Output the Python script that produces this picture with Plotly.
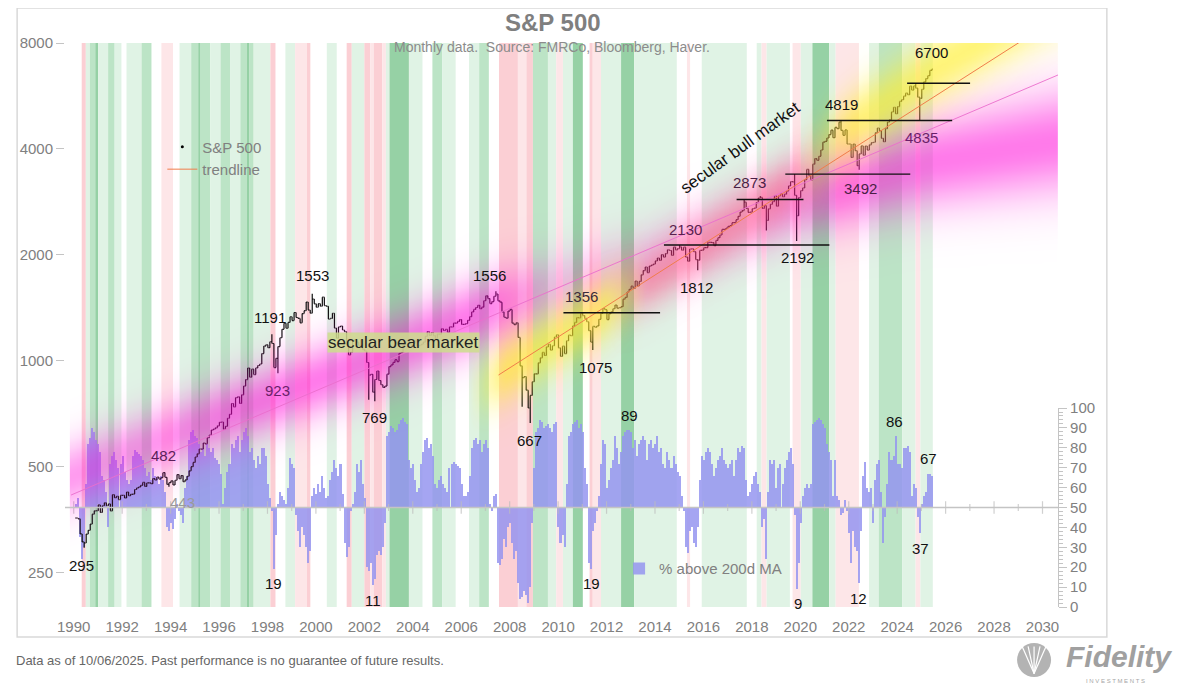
import numpy as np
import plotly.graph_objects as go

FONT = "Liberation Sans, Arial, sans-serif"
GREY = "#808080"

# ---------------- data ----------------
first_year, first_month = 1990, 6  # first monthly observation (Jun 1990)

spx_close = [
    358.02, 356.15, 322.56, 306.05, 304.00, 322.22, 330.22,
    343.93, 367.07, 375.22, 375.34, 389.83, 371.16, 387.81, 395.43, 387.86, 392.46, 375.22, 417.09,
    408.79, 412.70, 403.69, 414.95, 415.35, 408.14, 424.21, 414.03, 417.80, 418.68, 431.35, 435.71,
    438.78, 443.38, 451.67, 440.19, 450.19, 450.53, 448.13, 463.56, 458.93, 467.83, 461.79, 466.45,
    481.61, 467.14, 445.77, 450.91, 456.50, 444.27, 458.26, 475.49, 462.69, 472.35, 453.69, 459.27,
    470.42, 487.39, 500.71, 514.71, 533.40, 544.75, 562.06, 561.88, 584.41, 581.50, 605.37, 615.93,
    636.02, 640.43, 645.50, 654.17, 669.12, 670.63, 639.95, 651.99, 687.33, 705.27, 757.02, 740.74,
    786.16, 790.82, 757.12, 801.34, 848.28, 885.14, 954.29, 899.47, 947.28, 914.62, 955.40, 970.43,
    980.28, 1049.34, 1101.75, 1111.75, 1090.82, 1133.84, 1120.67, 957.28, 1017.01, 1098.67, 1163.63, 1229.23,
    1279.64, 1238.33, 1286.37, 1335.18, 1301.84, 1372.71, 1328.72, 1320.41, 1282.71, 1362.93, 1388.91, 1469.25,
    1394.46, 1366.42, 1498.58, 1452.43, 1420.60, 1454.60, 1430.83, 1517.68, 1436.51, 1429.40, 1314.95, 1320.28,
    1366.01, 1239.94, 1160.33, 1249.46, 1255.82, 1224.38, 1211.23, 1133.58, 1040.94, 1059.78, 1139.45, 1148.08,
    1130.20, 1106.73, 1147.39, 1076.92, 1067.14, 989.82, 911.62, 916.07, 815.28, 885.76, 936.31, 879.82,
    855.70, 841.15, 848.18, 916.92, 963.59, 974.50, 990.31, 1008.01, 995.97, 1050.71, 1058.20, 1111.92,
    1131.13, 1144.94, 1126.21, 1107.30, 1120.68, 1140.84, 1101.72, 1104.24, 1114.58, 1130.20, 1173.82, 1211.92,
    1181.27, 1203.60, 1180.59, 1156.85, 1191.50, 1191.33, 1234.18, 1220.33, 1228.81, 1207.01, 1249.48, 1248.29,
    1280.08, 1280.66, 1294.87, 1310.61, 1270.09, 1270.20, 1276.66, 1303.82, 1335.85, 1377.94, 1400.63, 1418.30,
    1438.24, 1406.82, 1420.86, 1482.37, 1530.62, 1503.35, 1455.27, 1473.99, 1526.75, 1549.38, 1481.14, 1468.36,
    1378.55, 1330.63, 1322.70, 1385.59, 1400.38, 1280.00, 1267.38, 1282.83, 1166.36, 968.75, 896.24, 903.25,
    825.88, 735.09, 797.87, 872.81, 919.14, 919.32, 987.48, 1020.62, 1057.08, 1036.19, 1095.63, 1115.10,
    1073.87, 1104.49, 1169.43, 1186.69, 1089.41, 1030.71, 1101.60, 1049.33, 1141.20, 1183.26, 1180.55, 1257.64,
    1286.12, 1327.22, 1325.83, 1363.61, 1345.20, 1320.64, 1292.28, 1218.89, 1131.42, 1253.30, 1246.96, 1257.60,
    1312.41, 1365.68, 1408.47, 1397.91, 1310.33, 1362.16, 1379.32, 1406.58, 1440.67, 1412.16, 1416.18, 1426.19,
    1498.11, 1514.68, 1569.19, 1597.57, 1630.74, 1606.28, 1685.73, 1632.97, 1681.55, 1756.54, 1805.81, 1848.36,
    1782.59, 1859.45, 1872.34, 1883.95, 1923.57, 1960.23, 1930.67, 2003.37, 1972.29, 2018.05, 2067.56, 2058.90,
    1994.99, 2104.50, 2067.89, 2085.51, 2107.39, 2063.11, 2103.84, 1972.18, 1920.03, 2079.36, 2080.41, 2043.94,
    1940.24, 1932.23, 2059.74, 2065.30, 2096.95, 2098.86, 2173.60, 2170.95, 2168.27, 2126.15, 2198.81, 2238.83,
    2278.87, 2363.64, 2362.72, 2384.20, 2411.80, 2423.41, 2470.30, 2471.65, 2519.36, 2575.26, 2647.58, 2673.61,
    2823.81, 2713.83, 2640.87, 2648.05, 2705.27, 2718.37, 2816.29, 2901.52, 2913.98, 2711.74, 2760.17, 2506.85,
    2704.10, 2784.49, 2834.40, 2945.83, 2752.06, 2941.76, 2980.38, 2926.46, 2976.74, 3037.56, 3140.98, 3230.78,
    3225.52, 2954.22, 2584.59, 2912.43, 3044.31, 3100.29, 3271.12, 3500.31, 3363.00, 3269.96, 3621.63, 3756.07,
    3714.24, 3811.15, 3972.89, 4181.17, 4204.11, 4297.50, 4395.26, 4522.68, 4307.54, 4605.38, 4567.00, 4766.18,
    4515.55, 4373.94, 4530.41, 4131.93, 4132.15, 3785.38, 4130.29, 3955.00, 3585.62, 3871.98, 4080.11, 3839.50,
    4076.60, 3970.15, 4109.31, 4169.48, 4179.83, 4450.38, 4588.96, 4507.66, 4288.05, 4193.80, 4567.80, 4769.83,
    4845.65, 5096.27, 5254.35, 5035.69, 5277.51, 5460.48, 5522.30, 5648.40, 5762.48, 5705.45, 6032.38, 5881.63,
    6040.53, 5954.50, 5611.85, 5569.06, 5911.69, 6204.95, 6339.39, 6460.26, 6688.46, 6740.28,
]

# intramonth extremes shown by the monthly bars
ext_low_month = ["1990-10", "1994-04", "1998-10", "2002-07", "2002-10", "2008-11", "2009-03",
                 "2011-10", "2016-02", "2018-12", "2020-03", "2022-10", "2025-04"]
ext_low_value = [294.5, 438.9, 923.3, 775.7, 768.6, 741.0, 666.8,
                 1074.8, 1810.1, 2346.6, 2191.9, 3491.6, 4835.0]
ext_high_month = ["1994-02", "1998-07", "2000-03", "2007-10", "2011-05", "2015-05", "2018-01",
                  "2018-09", "2020-02", "2022-01", "2025-02"]
ext_high_value = [482.0, 1190.6, 1552.9, 1576.1, 1370.6, 2134.7, 2872.9,
                  2940.9, 3393.5, 4818.6, 6147.4]

# % of S&P 500 members above their 200-day moving average (monthly)
pct_above_200d = [
    52, 55, 35, 24, 30, 62, 82,
    85, 90, 88, 84, 82, 78, 66, 64, 58, 40, 72, 76,
    78, 74, 70, 72, 76, 68, 64, 62, 64, 76, 79, 78,
    77, 76, 74, 70, 66, 68, 64, 70, 66, 65, 62, 66,
    64, 58, 40, 38, 42, 39, 44, 52, 48, 46, 42, 60,
    66, 84, 88, 89, 86, 85, 82, 78, 80, 76, 82, 80,
    78, 80, 75, 74, 72, 67, 52, 60, 68, 72, 82, 80,
    84, 86, 78, 84, 88, 90, 86, 78, 80, 74, 70, 76,
    72, 80, 80, 76, 62, 55, 48, 19, 36, 52, 58, 56,
    54, 52, 60, 75, 72, 70, 46, 38, 30, 40, 36, 30,
    22, 28, 56, 60, 57, 62, 58, 66, 60, 55, 56, 64,
    68, 74, 70, 66, 72, 57, 32, 25, 30, 48, 52, 58,
    72, 68, 74, 62, 55, 20, 18, 22, 11, 14, 26, 28,
    26, 30, 42, 86, 88, 91, 90, 88, 89, 92, 94, 95,
    93, 92, 74, 70, 72, 64, 58, 60, 72, 78, 84, 85,
    80, 82, 76, 62, 60, 64, 66, 62, 60, 58, 70, 72,
    73, 72, 71, 70, 62, 56, 56, 58, 66, 80, 84, 85,
    82, 84, 78, 82, 84, 80, 52, 48, 56, 57, 22, 21,
    24, 34, 30, 40, 42, 32, 24, 28, 12, 4, 5, 8,
    6, 2, 10, 42, 70, 88, 90, 94, 93, 90, 91, 92,
    90, 88, 92, 93, 40, 32, 36, 30, 62, 86, 88, 92,
    93, 94, 90, 92, 88, 70, 62, 22, 19, 38, 42, 48,
    56, 72, 84, 82, 60, 64, 70, 74, 86, 80, 72, 78,
    86, 88, 89, 89, 88, 80, 84, 76, 82, 84, 86, 84,
    74, 82, 84, 80, 82, 86, 78, 80, 72, 70, 78, 74,
    70, 76, 72, 68, 66, 56, 48, 30, 27, 38, 40, 32,
    30, 40, 64, 76, 74, 78, 80, 78, 72, 66, 70, 74,
    76, 80, 74, 72, 70, 72, 74, 66, 74, 80, 78, 81,
    80, 64, 56, 58, 62, 66, 68, 62, 58, 40, 44, 24,
    58, 74, 72, 74, 60, 70, 72, 62, 70, 74, 78, 80,
    72, 46, 9, 22, 42, 56, 60, 62, 60, 62, 92, 93,
    94, 95, 94, 92, 90, 82, 78, 74, 56, 74, 56, 54,
    46, 47, 54, 48, 37, 22, 38, 30, 28, 12, 38, 66,
    73, 60, 58, 60, 42, 64, 72, 74, 58, 32, 45, 62,
    78, 74, 76, 86, 72, 72, 70, 80, 80, 81, 78, 56,
    62, 60, 45, 37, 52, 56, 58, 67, 67, 66,
]

# background regime shading: segment start (decimal year) and level (+ green / - red)
band_start = [1990.42, 1990.69, 1990.86, 1991.03, 1991.25, 1991.37, 1991.78, 1992.05, 1992.33, 1992.54,
              1993.16, 1993.57, 1993.98, 1994.46, 1994.73, 1995.21, 1995.50, 1995.60, 1996.00, 1996.42,
              1996.83, 1997.24, 1997.50, 1997.60, 1997.79, 1998.48, 1998.69, 1999.10, 1999.50, 1999.99,
              2000.13, 2000.81, 2001.22, 2001.63, 2001.84, 2002.36, 2002.60, 2002.75, 2003.10, 2003.25,
              2003.40, 2004.20, 2004.76, 2005.17, 2005.58, 2006.13, 2006.68, 2007.10, 2007.50, 2007.92,
              2008.70, 2009.05, 2009.32, 2009.94, 2010.28, 2010.56, 2010.97, 2011.38, 2011.66, 2011.79,
              2012.13, 2012.96, 2013.50, 2015.26, 2015.68, 2015.81, 2016.29, 2018.15, 2018.56, 2018.76,
              2018.97, 2019.93, 2020.04, 2020.38, 2020.86, 2021.55, 2021.82, 2022.78, 2023.20, 2023.60,
              2024.57, 2025.12, 2025.32]
band_level = [0, -2, 1, 2, 3, 1, 2, 1, 0, 1,
              2, 0, -1, 0, 1, 2, 3, 2, 1, 2,
              1, 2, 3, 2, 1, -2, 0, 1, -1, -2,
              0, 1, 0, -2, 1, -2, -1, -2, -1, 1,
              3, 1, 0, 2, 1, 0, 1, 2, 0, -2,
              -1, -2, 2, 1, -1, 1, 3, 0, -2, -1,
              1, 3, 1, 0, -1, 0, 1, 0, 1, -1,
              1, 0, -1, 1, 3, 1, -1, 0, 1, 2,
              1, -1, 1]
band_last_end = 2025.83

# trendlines (start/end points)
pink_trend_years = [1990.25, 2031.0]
pink_trend_values = [416, 6490]
orange_trend_years = [2007.9, 2028.97]
orange_trend_values = [912, 7690]

# glow bands (centre path, strength profile)
magenta_years = [1990.25, 1996, 2000, 2004, 2008, 2014, 2020, 2026, 2031]
magenta_centre = [470, 680, 860, 1100, 1450, 1850, 2850, 3700, 4200]
magenta_str_years = [1990.25, 1994, 1997, 2007, 2010, 2018, 2022, 2031]
magenta_str = [0.75, 0.8, 1, 1, 0.45, 0.5, 1, 1]
yellow_years = [2006.5, 2008, 2012, 2014, 2020, 2022, 2026, 2031]
yellow_centre = [800, 921, 1375, 1690, 3300, 4400, 6800, 11000]
yellow_str_years = [2006.6, 2008.2, 2012.3, 2014.0, 2020.0, 2022.5, 2031]
yellow_str = [0, 1, 1, 0, 0, 1, 1]
red_years = [2012, 2021]
red_centre = [1375, 3500]
red_str_years = [2012.5, 2014.2, 2019.5, 2021.5]
red_str = [0, 1, 1, 0]

# support / resistance lines
support_level = [1370, 2134, 2873, 3393, 4819, 6147]
support_from = [2010.58, 2014.73, 2017.73, 2019.74, 2021.46, 2024.77]
support_to = [2014.57, 2021.56, 2020.49, 2024.90, 2026.63, 2027.37]

# price labels: text, year, placement level
price_label_text = ["295", "482", "443", "923", "1191", "1553", "769", "1556", "667", "1356",
                    "1075", "2130", "1812", "2873", "2192", "4819", "3492", "4835", "6700"]
price_label_year = [1990.70, 1994.07, 1994.86, 1998.77, 1998.48, 2000.21, 2002.76, 2007.53, 2009.18, 2011.32,
                    2011.89, 2015.60, 2016.09, 2018.27, 2020.25, 2022.06, 2022.84, 2025.35, 2025.76]
price_label_at = [263, 537, 395, 822, 1325, 1744, 689, 1744, 596, 1520,
                  961, 2356, 1612, 3203, 1961, 5357, 3094, 4317, 7494]
price_label_color = ["#111", "#5a1f5a", "#9a9a9a", "#6a1f6a", "#111", "#111", "#111", "#111", "#111", "#3a2a3a",
                     "#111", "#5a1f4f", "#111", "#4a1f45", "#111", "#111", "#4a1f45", "#6a1f6a", "#111"]

bar_label_text = ["95", "19", "11", "2", "89", "19", "9", "95", "12", "86", "67", "37"]
bar_label_year = [2003.95, 1998.60, 2002.72, 2009.14, 2013.29, 2011.73, 2020.25, 2021.32, 2022.76, 2024.24,
                  2025.64, 2025.31]
bar_label_at = [102.5, 11.6, 3.5, -5.5, 96, 11.6, 2, 102.5, 4.5, 93, 74.4, 29.6]

year_ticks = list(range(1990, 2031, 2))
TICK_SHIFT = 0.36  # year labels sit slightly right of Jan 1

# ---------------- derived ----------------
n = len(spx_close)
assert len(pct_above_200d) == n
assert len(band_start) == len(band_level)
months = [(first_year + (first_month - 1 + i) // 12, (first_month - 1 + i) % 12 + 1) for i in range(n)]
t = [y + (m - 0.5) / 12 for y, m in months]
keys = [f"{y}-{m:02d}" for y, m in months]
opens = [spx_close[0]] + spx_close[:-1]
highs = [max(o, c) for o, c in zip(opens, spx_close)]
lows = [min(o, c) for o, c in zip(opens, spx_close)]
for k, v in zip(ext_low_month, ext_low_value):
    i = keys.index(k)
    lows[i] = min(lows[i], v)
for k, v in zip(ext_high_month, ext_high_value):
    i = keys.index(k)
    highs[i] = max(highs[i], v)

X_RANGE = [1990.0, 2031.0]
Y_LOG_RANGE = [np.log10(200), np.log10(8000)]
PX_PER_DECADE = 564 / (Y_LOG_RANGE[1] - Y_LOG_RANGE[0])

fig = go.Figure()

# bars: % above 200d MA (primary y, lower part)
fig.add_trace(go.Bar(
    x=t, y=[v - 50 for v in pct_above_200d], base=50,
    marker=dict(color="rgba(148,148,240,0.84)", line=dict(width=0)),
    width=0.083, name="% above 200d MA", legend="legend2",
    xaxis="x", yaxis="y", hoverinfo="skip",
))

# baseline ticks at 50
minor_years = list(range(1990, 2031))
fig.add_trace(go.Scatter(
    x=[y + TICK_SHIFT for y in minor_years], y=[50] * len(minor_years),
    mode="markers", xaxis="x", yaxis="y", showlegend=False, hoverinfo="skip",
    marker=dict(symbol="line-ns", size=[9 if y % 2 == 0 else 5 for y in minor_years],
                line=dict(color="#bdbdbd", width=1.2)),
))

# S&P 500 monthly bars
fig.add_trace(go.Ohlc(
    x=t, open=opens, high=highs, low=lows, close=spx_close,
    increasing=dict(line=dict(color="#111111", width=1.2)),
    decreasing=dict(line=dict(color="#111111", width=1.2)),
    tickwidth=0.45, showlegend=False, xaxis="x", yaxis="y2", name="S&P 500",
))
fig.add_trace(go.Scatter(
    x=[None], y=[None], mode="markers", marker=dict(color="black", size=3),
    name="S&P 500", legend="legend", xaxis="x", yaxis="y2",
))

# glow heatmaps (drawn above the price bars)
gx = np.arange(1990.25, 2031.05, 0.1)
gy = np.logspace(Y_LOG_RANGE[0], Y_LOG_RANGE[1], 170)


def glow(cyears, cvals, syears, svals, sig_years, sig_vals, rgb, alpha):
    centre = np.interp(gx, cyears, np.log10(cvals))
    strength = np.interp(gx, syears, svals)
    sigma = np.interp(gx, sig_years, sig_vals)
    d = (np.log10(gy)[:, None] - centre[None, :]) * PX_PER_DECADE
    z = np.exp(-0.5 * (d / sigma[None, :]) ** 2) * strength[None, :]
    r, g, b = rgb
    return go.Heatmap(
        x=gx, y=gy, z=np.round(z, 3), zmin=0, zmax=1, zsmooth="best",
        colorscale=[[0, f"rgba({r},{g},{b},0)"], [1, f"rgba({r},{g},{b},{alpha})"]],
        showscale=False, hoverinfo="skip", xaxis="x", yaxis="y3",
    )


fig.add_trace(glow(magenta_years, magenta_centre, magenta_str_years, magenta_str,
                   [1990, 2020, 2031], [24, 27, 36], (255, 0, 215), 0.52))
fig.add_trace(glow(red_years, red_centre, red_str_years, red_str,
                   [2012, 2021], [20, 22], (255, 80, 95), 0.38))
fig.add_trace(glow(yellow_years, yellow_centre, yellow_str_years, yellow_str,
                   [2006, 2031], [22, 27], (255, 238, 40), 0.62))

# trendlines
fig.add_trace(go.Scatter(
    x=pink_trend_years, y=pink_trend_values, mode="lines",
    line=dict(color="rgba(235,110,205,0.9)", width=1), showlegend=False,
    hoverinfo="skip", xaxis="x", yaxis="y3",
))
r_or = np.log(orange_trend_values[1] / orange_trend_values[0]) / (orange_trend_years[1] - orange_trend_years[0])
or_x = [orange_trend_years[0], X_RANGE[1]]
or_y = [orange_trend_values[0], orange_trend_values[0] * np.exp(r_or * (X_RANGE[1] - orange_trend_years[0]))]
fig.add_trace(go.Scatter(
    x=or_x, y=or_y, mode="lines", line=dict(color="rgb(240,125,75)", width=1),
    name="trendline", legend="legend", hoverinfo="skip", xaxis="x", yaxis="y3",
))

# support lines
sx, sy = [], []
for lv, a, b in zip(support_level, support_from, support_to):
    sx += [a, b, None]
    sy += [lv, lv, None]
fig.add_trace(go.Scatter(
    x=sx, y=sy, mode="lines", line=dict(color="#111111", width=1.4),
    showlegend=False, hoverinfo="skip", xaxis="x", yaxis="y3",
))

# background regime bands
band_colors = {3: "rgb(150,209,165)", 2: "rgb(188,228,198)", 1: "rgb(224,243,229)",
               -1: "rgb(253,230,232)", -2: "rgb(251,207,212)"}
ends = band_start[1:] + [band_last_end]
shapes = []
for x0, x1, lv in zip(band_start, ends, band_level):
    if lv == 0:
        continue
    shapes.append(dict(type="rect", xref="x", yref="paper", x0=x0, x1=x1, y0=0, y1=1,
                       fillcolor=band_colors[lv], line=dict(width=0), layer="below"))
# baseline at 50
shapes.append(dict(type="line", xref="x", yref="y", x0=X_RANGE[0], x1=X_RANGE[1], y0=50, y1=50,
                   line=dict(color="#c4c4c4", width=1.3)))
# outer frame
shapes.append(dict(type="rect", xref="paper", yref="paper", x0=-0.0482, x1=1.0492, y0=-0.0532, y1=1.0621,
                   line=dict(color="#d9d9d9", width=1.5), layer="below"))
# Fidelity mark
shapes.append(dict(type="circle", xref="paper", yref="paper", x0=0.9588, x1=0.993, y0=-0.124, y1=-0.0638,
                   fillcolor="#b3b3b3", line=dict(width=0)))
for dx in (-0.012, -0.006, 0.0, 0.006, 0.012):
    shapes.append(dict(type="line", xref="paper", yref="paper", x0=0.9759, y0=-0.118,
                       x1=0.9759 + dx, y1=-0.070, line=dict(color="white", width=1.2)))

annotations = []
for txt, yr, lv, col in zip(price_label_text, price_label_year, price_label_at, price_label_color):
    annotations.append(dict(x=yr, y=np.log10(lv), xref="x", yref="y2", text=txt, showarrow=False,
                            xanchor="center", yanchor="middle",
                            font=dict(family=FONT, size=15, color=col)))
for txt, yr, lv in zip(bar_label_text, bar_label_year, bar_label_at):
    annotations.append(dict(x=yr, y=lv, xref="x", yref="y", text=txt, showarrow=False,
                            xanchor="center", yanchor="middle",
                            font=dict(family=FONT, size=15, color="#111")))
annotations += [
    dict(x=2003.99, y=np.log10(1125), xref="x", yref="y2", text="secular bear market", showarrow=False,
         xanchor="center", yanchor="middle",
         bgcolor="rgba(205,222,140,0.85)", borderpad=0, font=dict(family=FONT, size=17, color="#222")),
    dict(x=2017.9, y=np.log10(4030), xref="x", yref="y2", text="secular bull market", showarrow=False,
         xanchor="center", yanchor="middle",
         textangle=-36, font=dict(family=FONT, size=17, color="#111")),
    dict(x=0.491, y=1.0355, xref="paper", yref="paper", text="<b>S&P 500</b>", showarrow=False,
         xanchor="center", yanchor="middle", font=dict(family=FONT, size=24, color="#7f7f7f")),
    dict(x=0.49, y=0.993, xref="paper", yref="paper", text="Monthly data.  Source: FMRCo, Bloomberg, Haver.",
         xanchor="center", yanchor="middle",
         showarrow=False, font=dict(family=FONT, size=14, color="#8c8c8c")),
    dict(x=-0.0512, y=-0.094, xref="paper", yref="paper", xanchor="left", yanchor="middle",
         text="Data as of 10/06/2025. Past performance is no guarantee of future results.",
         showarrow=False, font=dict(family=FONT, size=13, color="#666666")),
    dict(x=1.061, y=-0.088, xref="paper", yref="paper", text="<b><i>Fidelity</i></b>", showarrow=False,
         xanchor="center", yanchor="middle", font=dict(family=FONT, size=30, color="#a0a0a0")),
    dict(x=1.058, y=-0.131, xref="paper", yref="paper", text="I N V E S T M E N T S", showarrow=False,
         xanchor="center", yanchor="middle", font=dict(family=FONT, size=6, color="#a6a6a6")),
]

fig.update_layout(
    width=1192, height=677,
    margin=dict(l=54, r=142, t=35, b=78),
    paper_bgcolor="white", plot_bgcolor="rgba(0,0,0,0)",
    font=dict(family=FONT, color=GREY),
    barmode="overlay", bargap=0,
    shapes=shapes, annotations=annotations,
    xaxis=dict(range=X_RANGE, domain=[0, 1], anchor="y", showgrid=False, zeroline=False, showline=False,
               tickvals=[y + TICK_SHIFT for y in year_ticks], ticktext=[str(y) for y in year_ticks],
               ticks="outside", ticklen=6, tickcolor="rgba(0,0,0,0)",
               tickfont=dict(family=FONT, size=15, color=GREY), rangeslider=dict(visible=False)),
    yaxis=dict(domain=[0, 0.3528], range=[0, 100], side="right", anchor="x", showgrid=False, zeroline=False,
               showline=True, linecolor="#c4c4c4", linewidth=1.2, ticks="outside", ticklen=8,
               tickcolor="#c4c4c4", dtick=10, tick0=0,
               minor=dict(dtick=2, ticks="outside", ticklen=4, tickcolor="#c4c4c4"),
               tickfont=dict(family=FONT, size=15, color=GREY)),
    yaxis2=dict(type="log", range=Y_LOG_RANGE, domain=[0, 1], anchor="x", side="left", showgrid=False,
                zeroline=False, showline=False, tickvals=[250, 500, 1000, 2000, 4000, 8000],
                ticktext=["250", "500", "1000", "2000", "4000", "8000"], ticks="outside", ticklen=8,
                tickcolor="#c4c4c4", tickfont=dict(family=FONT, size=15, color=GREY)),
    yaxis3=dict(type="log", range=Y_LOG_RANGE, overlaying="y2", anchor="x", visible=False),
    legend=dict(x=0.098, y=0.845, xanchor="left", yanchor="top", bgcolor="rgba(0,0,0,0)",
                font=dict(family=FONT, size=15, color=GREY), itemsizing="trace"),
    legend2=dict(x=0.558, y=0.097, xanchor="left", yanchor="top", bgcolor="rgba(0,0,0,0)",
                 font=dict(family=FONT, size=15, color=GREY)),
)

fig.write_html("out.html")
